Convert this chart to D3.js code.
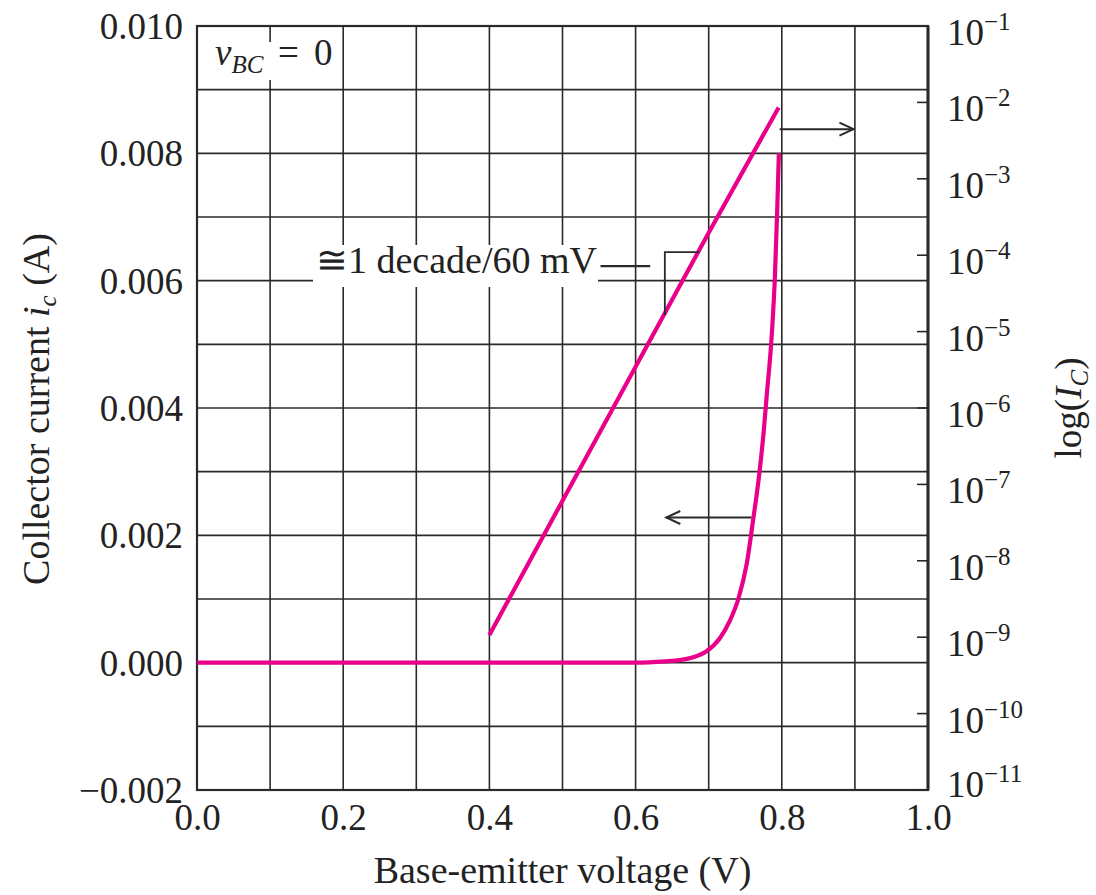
<!DOCTYPE html>
<html>
<head>
<meta charset="utf-8">
<script src="https://cdn.jsdelivr.net/npm/d3@7"></script>
<style>
  body { margin: 0; background: #fff; }
  text { font-family: "Liberation Serif", "Times New Roman", serif; fill: #222; }
</style>
</head>
<body>
<script>
// axis ticks
let vbeTicks = [0, 0.2, 0.4, 0.6, 0.8, 1.0];
let icTicks = [-0.002, 0, 0.002, 0.004, 0.006, 0.008, 0.010];
let logExps = [-1, -2, -3, -4, -5, -6, -7, -8, -9, -10, -11];

// linear-scale curve ic(vBE)
let linV  = [0, 0.60, 0.64, 0.66, 0.68, 0.697, 0.715, 0.729, 0.7405, 0.752, 0.761, 0.768, 0.775, 0.7794, 0.786, 0.7907, 0.7937, 0.796];
let linIc = [0, 0, 0.00002, 0.00004, 0.00009, 0.00018, 0.00038, 0.00066, 0.0010, 0.00155, 0.00226, 0.00285, 0.0036, 0.0042, 0.0051, 0.0061, 0.0071, 0.0080];

// log-scale curve IC(vBE)
let logV  = [0.4, 0.5, 0.6, 0.7, 0.7957];
let logIc = [1.07e-9, 6.1e-8, 3.46e-6, 1.97e-4, 8.6e-3];

let w = 1096, h = 895;
let pL = 197, pR = 928, pT = 26, pB = 790; // plot box
let pink = '#e8008a', ink = '#2a2a2a';
let fs = 37;

let svg = d3.select('body').append('svg')
  .attr('width', w).attr('height', h);

let x = d3.scaleLinear().domain([0, 1]).range([pL, pR]);
let y = d3.scaleLinear().domain([-0.002, 0.010]).range([pB, pT]);
let yLog = d3.scaleLog().domain([1e-11, 1e-1]).range([pB, pT]);

// grid every 0.1 V and every 1 mA
svg.append('g').selectAll('line')
  .data(d3.range(1, 10).map(i => i / 10))
  .enter().append('line')
  .attr('x1', d => x(d)).attr('x2', d => x(d))
  .attr('y1', pT).attr('y2', pB)
  .attr('stroke', ink).attr('stroke-width', 1.6);

svg.append('g').selectAll('line')
  .data(d3.range(-1, 10).map(i => i / 1000))
  .enter().append('line')
  .attr('x1', pL).attr('x2', pR)
  .attr('y1', d => y(d)).attr('y2', d => y(d))
  .attr('stroke', ink).attr('stroke-width', 1.6);

// frame
svg.append('rect')
  .attr('x', pL).attr('y', pT)
  .attr('width', pR - pL).attr('height', pB - pT)
  .attr('fill', 'none').attr('stroke', ink).attr('stroke-width', 2.2);

// left axis labels
let yAxis = d3.axisLeft(y).tickValues(icTicks).tickSize(0).tickPadding(14).tickFormat(d3.format('.3f'));
let gy = svg.append('g').attr('transform', 'translate(' + pL + ',0)').call(yAxis);
gy.select('.domain').remove();
gy.selectAll('text').style('font-size', fs + 'px').attr('fill', ink)
  .attr('font-family', '"Liberation Serif", serif').attr('dy', '0.34em');

// bottom axis labels
let xAxis = d3.axisBottom(x).tickValues(vbeTicks).tickSize(0).tickPadding(14).tickFormat(d3.format('.1f'));
let gx = svg.append('g').attr('transform', 'translate(0,' + pB + ')').call(xAxis);
gx.select('.domain').remove();
gx.selectAll('text').style('font-size', fs + 'px').attr('fill', ink)
  .attr('font-family', '"Liberation Serif", serif');

// right log axis: ticks point inward
let logAll = yLog.ticks();
svg.append('g').selectAll('line')
  .data(logAll)
  .enter().append('line')
  .attr('x1', pR)
  .attr('x2', d => Math.abs(Math.log10(d) - Math.round(Math.log10(d))) < 1e-6 ? pR - 11 : pR - 7)
  .attr('y1', d => yLog(d)).attr('y2', d => yLog(d))
  .attr('stroke', ink).attr('stroke-width', 1.6);

svg.append('line')
  .attr('x1', pR).attr('x2', pR).attr('y1', pT).attr('y2', pB)
  .attr('stroke', ink).attr('stroke-width', 3);

let logLab = svg.append('g').selectAll('text')
  .data(logExps)
  .enter().append('text')
  .attr('x', 947)
  .attr('y', d => yLog(Math.pow(10, d)) + (d === -11 ? 7 : 19)) // last one lifted clear of "1.0"
  .style('font-size', fs + 'px');
logLab.append('tspan').text('10');
logLab.append('tspan').attr('dy', -15).style('font-size', '25px').text(d => '\u2212' + (-d));

// curves
let linPts = linV.map((v, i) => [v, linIc[i]]);
let logPts = logV.map((v, i) => [v, logIc[i]]);

svg.append('path')
  .attr('d', d3.line().x(d => x(d[0])).y(d => y(d[1])).curve(d3.curveMonotoneX)(linPts))
  .attr('fill', 'none').attr('stroke', pink).attr('stroke-width', 4.2).attr('stroke-linejoin', 'round');

svg.append('path')
  .attr('d', d3.line().x(d => x(d[0])).y(d => yLog(d[1]))(logPts))
  .attr('fill', 'none').attr('stroke', pink).attr('stroke-width', 4.2);

// arrows pointing to the scale each curve belongs to
let defs = svg.append('defs');
defs.append('marker')
  .attr('id', 'head').attr('viewBox', '-1 -8 18 16')
  .attr('refX', 15).attr('refY', 0)
  .attr('markerWidth', 18).attr('markerHeight', 16)
  .attr('markerUnits', 'userSpaceOnUse').attr('orient', 'auto')
  .append('path').attr('d', 'M1,-6.5 L15,0 L1,6.5')
  .attr('fill', 'none').attr('stroke', ink).attr('stroke-width', 2);

let arrows = [
  { from: 0.797, to: 0.898, ic: 0.00838 },
  { from: 0.7585, to: 0.642, ic: 0.00228 }
];
svg.append('g').selectAll('line')
  .data(arrows)
  .enter().append('line')
  .attr('x1', d => x(d.from)).attr('x2', d => x(d.to))
  .attr('y1', d => y(d.ic)).attr('y2', d => y(d.ic))
  .attr('stroke', ink).attr('stroke-width', 2)
  .attr('marker-end', 'url(#head)');

// slope annotation
let logK = (Math.log10(logIc[logIc.length - 1]) - Math.log10(logIc[0])) / (logV[logV.length - 1] - logV[0]);
let logAt = v => Math.pow(10, Math.log10(logIc[0]) + logK * (v - logV[0]));
let vAt = ic => logV[0] + (Math.log10(ic) - Math.log10(logIc[0])) / logK;

let cornerV = 0.640, cornerI = 1.1e-4;
svg.append('path')
  .attr('d', 'M' + x(vAt(cornerI)) + ',' + yLog(cornerI) +
             'L' + x(cornerV) + ',' + yLog(cornerI) +
             'L' + x(cornerV) + ',' + yLog(logAt(cornerV)))
  .attr('fill', 'none').attr('stroke', ink).attr('stroke-width', 1.8);

svg.append('rect')
  .attr('x', 313).attr('y', 245).attr('width', 285).attr('height', 42)
  .attr('fill', '#fff');
svg.append('text')
  .attr('x', 316).attr('y', 273)
  .style('font-size', '38px')
  .text('\u22451 decade/60 mV');
svg.append('line')
  .attr('x1', x(0.552)).attr('x2', x(0.620))
  .attr('y1', yLog(7.2e-5)).attr('y2', yLog(7.2e-5))
  .attr('stroke', ink).attr('stroke-width', 2.2);

// vBC = 0 label
svg.append('rect')
  .attr('x', 211).attr('y', 42).attr('width', 128).attr('height', 38)
  .attr('fill', '#fff');
let vbc = svg.append('text').attr('y', 65).style('font-size', fs + 'px');
vbc.append('tspan').attr('x', 215).style('font-style', 'italic').text('v');
vbc.append('tspan').style('font-style', 'italic').style('font-size', '25px').attr('dy', 8).text('BC');
vbc.append('tspan').attr('x', 278).attr('dy', -8).text('=');
vbc.append('tspan').attr('x', 314).text('0');

// axis titles
svg.append('text')
  .attr('x', (pL + pR) / 2).attr('y', 883)
  .attr('text-anchor', 'middle').style('font-size', '38px')
  .text('Base-emitter voltage (V)');

let yt = svg.append('text')
  .attr('transform', 'translate(49,409) rotate(-90)')
  .attr('text-anchor', 'middle').style('font-size', '38px');
yt.append('tspan').text('Collector current ');
yt.append('tspan').style('font-style', 'italic').text('i');
yt.append('tspan').style('font-style', 'italic').style('font-size', '25px').attr('dy', 7).text('c');
yt.append('tspan').attr('dy', -7).text(' (A)');

let rt = svg.append('text')
  .attr('transform', 'translate(1081,408) rotate(-90)')
  .attr('text-anchor', 'middle').style('font-size', fs + 'px');
rt.append('tspan').text('log(');
rt.append('tspan').style('font-style', 'italic').text('I');
rt.append('tspan').style('font-style', 'italic').style('font-size', '25px').attr('dy', 7).text('C');
rt.append('tspan').attr('dy', -7).text(')');
</script>
</body>
</html>
